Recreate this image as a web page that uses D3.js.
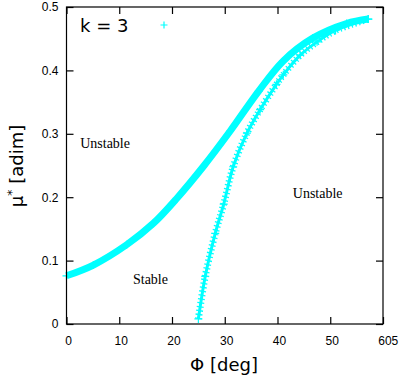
<!DOCTYPE html>
<html><head><meta charset="utf-8">
<script src="https://cdn.jsdelivr.net/npm/d3@7"></script>
<style>
html,body{margin:0;padding:0;background:#fff;}
svg{display:block;}
</style></head>
<body>
<script>
// ---- data ----
const phi1 = [0, 5.1, 11.4, 16.5, 20.9, 25.9, 31.0, 36.4, 41.1, 46.7, 53.1, 57.2];
const mu1  = [0.076, 0.093, 0.125, 0.159, 0.198, 0.248, 0.304, 0.367, 0.415, 0.451, 0.474, 0.481];
const phi2 = [25.0, 26.3, 28.2, 29.8, 31.6, 34.2, 36.7, 39.8, 41.1, 44.3, 47.5, 51.0, 57.2];
const mu2  = [0.008, 0.075, 0.143, 0.189, 0.248, 0.301, 0.338, 0.378, 0.393, 0.424, 0.445, 0.463, 0.481];
const xTicks = [0, 10, 20, 30, 40, 50, 60];
const xTickLabels = ["0", "10", "20", "30", "40", "50", "60"];
const yTicks = [0, 0.1, 0.2, 0.3, 0.4, 0.5];
const yTickLabels = ["0", "0.1", "0.2", "0.3", "0.4", "0.5"];
const regionLabels = ["Unstable", "Unstable", "Stable"];
const regionPhi = [2.6, 42.9, 12.6];
const regionMu = [0.278, 0.199, 0.063];

const W = 401, H = 385;
const m = {l: 66.5, r: 383, t: 7, b: 324};
const cyan = "#00ffff";

const svg = d3.select("body").append("svg").attr("width", W).attr("height", H);
svg.append("rect").attr("width", W).attr("height", H).attr("fill", "#fff");

const x = d3.scaleLinear().domain([0, 60]).range([m.l, m.r]);
const y = d3.scaleLinear().domain([0, 0.5]).range([m.b, m.t]);

const tickFont = "'Liberation Sans', Arial, sans-serif";
const labFont = "'DejaVu Sans', Verdana, sans-serif";

// axes with inward ticks, mirrored
const gx = svg.append("g").attr("transform", `translate(0,${m.b})`)
  .call(d3.axisBottom(x).tickValues(xTicks).tickFormat((d, i) => xTickLabels[i]).tickSizeInner(-7).tickSizeOuter(0).tickPadding(12));
const gxt = svg.append("g").attr("transform", `translate(0,${m.t})`)
  .call(d3.axisTop(x).tickValues(xTicks).tickFormat("").tickSizeInner(-7).tickSizeOuter(0));
const gy = svg.append("g").attr("transform", `translate(${m.l},0)`)
  .call(d3.axisLeft(y).tickValues(yTicks).tickFormat((d, i) => yTickLabels[i]).tickSizeInner(-7).tickSizeOuter(0).tickPadding(8));
const gyr = svg.append("g").attr("transform", `translate(${m.r},0)`)
  .call(d3.axisRight(y).tickValues(yTicks).tickFormat("").tickSizeInner(-7).tickSizeOuter(0));
[gx, gxt, gy, gyr].forEach(g => {
  g.select(".domain").remove();
  g.selectAll("line").attr("stroke", "#000").attr("stroke-width", 1.2);
  g.selectAll("text").attr("font-family", tickFont).attr("font-size", 12).attr("fill", "#000");
});
gx.selectAll("text").attr("dx", 1.5);

// extra stray glyph after the last x tick label
svg.append("text").attr("x", x(60) + 8.5).attr("y", m.b + 21)
  .attr("font-family", tickFont).attr("font-size", 12).text("5");

// curves
const line = d3.line().x(d => x(d[0])).y(d => y(d[1])).curve(d3.curveCatmullRom.alpha(0.5));
const c1 = phi1.map((p, i) => [p, mu1[i]]);
const c2 = phi2.map((p, i) => [p, mu2[i]]);

const plot = svg.append("g");
plot.append("path").attr("d", line(c1)).attr("fill", "none").attr("stroke", cyan).attr("stroke-width", 7);
plot.append("path").attr("d", line(c2)).attr("fill", "none").attr("stroke", cyan).attr("stroke-width", 3);
plot.append("path").attr("d", line(c2)).attr("fill", "none").attr("stroke", cyan).attr("stroke-width", 7)
  .attr("stroke-dasharray", "1.3 2.6");

function plus(g, cx, cy, s) {
  g.append("path").attr("d", `M${cx - s},${cy}H${cx + s}M${cx},${cy - s}V${cy + s}`)
    .attr("stroke", cyan).attr("stroke-width", 1.2).attr("fill", "none");
}
c1.concat(c2).forEach(d => plus(plot, x(d[0]), y(d[1]), 4));

// frame
svg.append("rect").attr("x", m.l).attr("y", m.t).attr("width", m.r - m.l).attr("height", m.b - m.t)
  .attr("fill", "none").attr("stroke", "#000").attr("stroke-width", 1.2);

// region labels
regionLabels.forEach((t, i) => {
  svg.append("text").attr("x", x(regionPhi[i])).attr("y", y(regionMu[i]))
    .attr("font-family", "'Liberation Serif', 'Times New Roman', serif").attr("font-size", 14)
    .attr("fill", "#000").text(t);
});

// legend
svg.append("text").attr("x", 80).attr("y", 32).attr("font-family", labFont).attr("font-size", 18).text("k = 3");
plus(svg, 164, 25, 3.5);

// axis titles
svg.append("text").attr("x", 224).attr("y", 371).attr("text-anchor", "middle")
  .attr("font-family", labFont).attr("font-size", 18).text("Φ [deg]");
const yl = svg.append("text").attr("transform", `translate(23,166) rotate(-90)`).attr("text-anchor", "middle")
  .attr("font-family", labFont).attr("font-size", 18);
yl.append("tspan").text("μ");
yl.append("tspan").attr("font-size", 13).attr("dy", -7).text("*");
yl.append("tspan").attr("dy", 7).text(" [adim]");
</script>
</body></html>
